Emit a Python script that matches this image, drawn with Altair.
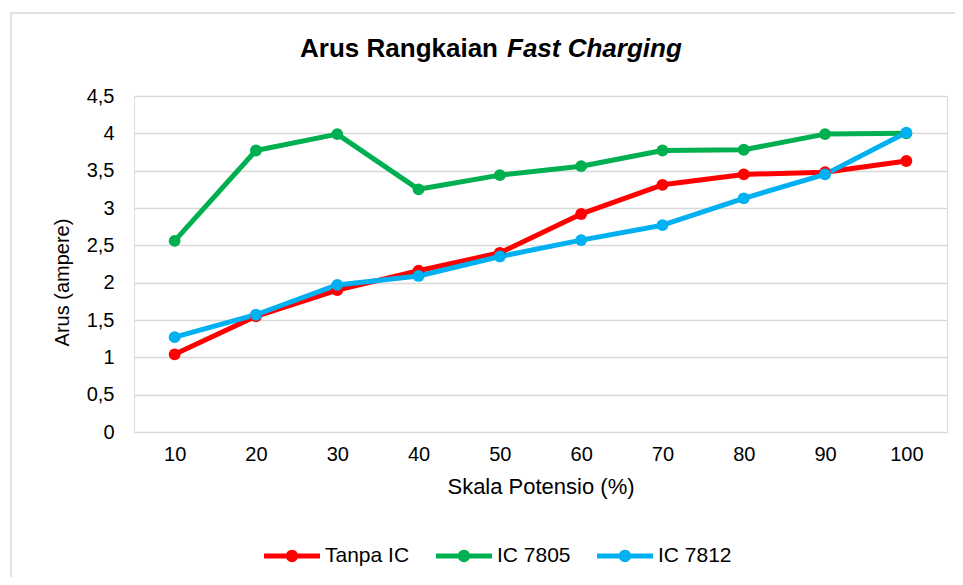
import altair as alt
import pandas as pd

categories = ["10", "20", "30", "40", "50", "60", "70", "80", "90", "100"]
series_names = ["Tanpa IC", "IC 7805", "IC 7812"]
tanpa_ic = [1.04, 1.55, 1.90, 2.16, 2.40, 2.92, 3.31, 3.45, 3.48, 3.63]
ic_7805 = [2.56, 3.77, 3.99, 3.25, 3.44, 3.56, 3.77, 3.78, 3.99, 4.00]
ic_7812 = [1.27, 1.57, 1.97, 2.09, 2.35, 2.57, 2.77, 3.13, 3.45, 4.01]
y_ticks = [0, 0.5, 1, 1.5, 2, 2.5, 3, 3.5, 4, 4.5]
colors = ["#FF0000", "#00B050", "#00B0F0"]

rows = []
for name, vals in zip(series_names, [tanpa_ic, ic_7805, ic_7812]):
    for i, (c, v) in enumerate(zip(categories, vals)):
        rows.append({"Skala": c, "idx": i, "Arus": v, "Seri": name})
df = pd.DataFrame(rows)

FONT = "Liberation Sans"
legend_path = ("M-1,-0.09L1,-0.09L1,0.09L-1,0.09Z "
               "M0.22,0A0.22,0.22,0,1,1,-0.22,0A0.22,0.22,0,1,1,0.22,0Z")

x_enc = alt.X("Skala:N", sort=categories,
              scale=alt.Scale(type="point", padding=0.5),
              axis=alt.Axis(title="Skala Potensio (%)", labelAngle=0, ticks=False,
                            domain=False, grid=False, labelPadding=12,
                            titlePadding=12, labelFontSize=20, titleFontSize=22,
                            labelColor="#000000", titleColor="#000000",
                            labelFont=FONT, titleFont=FONT, titleFontWeight="normal"))
y_enc = alt.Y("Arus:Q", scale=alt.Scale(domain=[0, 4.5], nice=False),
              axis=alt.Axis(title="Arus (ampere)", values=y_ticks, ticks=False,
                            domain=False, grid=True, gridColor="#D9D9D9", gridWidth=1.3,
                            labelExpr="replace(toString(datum.value), '.', ',')",
                            labelPadding=20, titlePadding=14, labelFontSize=20,
                            titleFontSize=20, titleY=186, labelColor="#000000",
                            titleColor="#000000",
                            labelFont=FONT, titleFont=FONT, titleFontWeight="normal"))
color_enc = alt.Color("Seri:N", sort=series_names,
                      scale=alt.Scale(domain=series_names, range=colors),
                      legend=alt.Legend(title=None, orient="none", direction="horizontal",
                                        legendX=130, legendY=432,
                                        symbolType=legend_path, symbolSize=3136,
                                        symbolStrokeWidth=0, labelFontSize=21,
                                        labelFont=FONT, labelColor="#000000",
                                        labelOffset=5, columnPadding=26,
                                        symbolOpacity=1))

base = alt.Chart(df)
lines = base.mark_line(strokeWidth=5, strokeCap="round", strokeJoin="round").encode(
    x=x_enc, y=y_enc, color=color_enc, order=alt.Order("idx:Q"))
points = base.mark_point(filled=True, size=140, opacity=1).encode(
    x=x_enc, y=y_enc, color=color_enc)

blank = alt.Data(values=[{"k": 1}])
border = alt.Chart(blank).mark_rect(fill=None, stroke="#D9D9D9", strokeWidth=1.5).encode(
    x=alt.value(-123), x2=alt.value(840), y=alt.value(-83), y2=alt.value(520))
title_a = alt.Chart(blank).mark_text(text="Arus Rangkaian", font=FONT, fontSize=26,
                                     fontWeight="bold", align="right",
                                     baseline="alphabetic", color="#000000").encode(
    x=alt.value(364), y=alt.value(-39))
title_b = alt.Chart(blank).mark_text(text="Fast Charging", font=FONT, fontSize=26,
                                     fontWeight="bold", fontStyle="italic", align="left",
                                     baseline="alphabetic", color="#000000").encode(
    x=alt.value(373), y=alt.value(-39))

chart = alt.layer(border, lines, points, title_a, title_b).properties(
    width=813, height=336,
    autosize=alt.AutoSizeParams(type="none"),
    padding={"left": 126, "top": 88, "right": 8, "bottom": 145},
).configure_view(stroke=None).configure(background="#FFFFFF")

chart.save("out.html", embed_options={"renderer": "svg", "actions": False})
